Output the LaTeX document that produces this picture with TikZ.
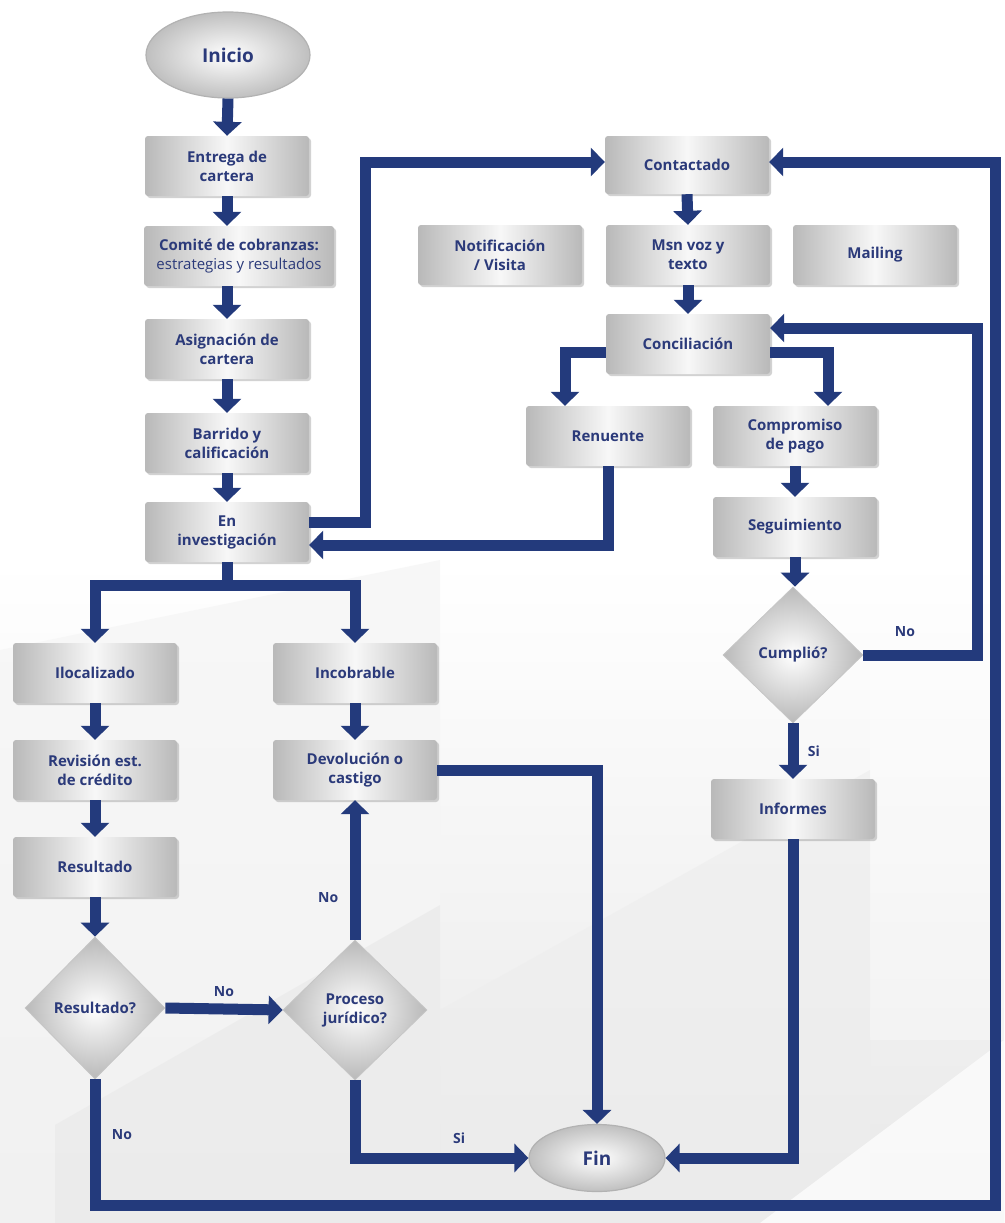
\documentclass[tikz,border=0pt]{standalone}
\usepackage{fontspec}
\setmainfont{Open Sans}
\usetikzlibrary{arrows.meta,shapes.geometric,shadows}
\definecolor{navy}{HTML}{233A7C}
\definecolor{txt}{HTML}{2B3A7A}
\begin{document}
\begin{tikzpicture}[x=1pt,y=-1pt,
  box/.style={rectangle, rounded corners=3pt, minimum width=164pt, minimum height=60pt,
    inner sep=2pt, align=center, text=txt, font=\fontsize{15}{19}\selectfont\bfseries,
    left color=gray!55, right color=gray!55, middle color=gray!6,
    drop shadow={shadow xshift=2pt, shadow yshift=-2pt, opacity=0.35}},
  dec/.style={diamond, inner sep=0pt, align=center, text=txt,
    font=\fontsize{15}{19}\selectfont\bfseries, shading=radial, inner color=white, outer color=gray!55,
    draw=gray!45, line width=0.8pt},
  term/.style={ellipse, inner sep=0pt, text=txt, font=\fontsize{19}{22}\selectfont\bfseries,
    shading=radial, inner color=white, outer color=gray!50, draw=gray!60, line width=1.2pt},
  conn/.style={draw=navy, line width=11pt, line join=miter,
    -{Triangle[width=28pt,length=14pt]}},
  seg/.style={draw=navy, line width=11pt, line join=miter},
  lbl/.style={text=txt, font=\fontsize{14}{16}\selectfont\bfseries}
]
\useasboundingbox (0,0) rectangle (1004,1223);
% background
\fill[white] (0,0) rectangle (1004,1223);
\shade[top color=white, bottom color=gray!18] (0,560) rectangle (1004,1223);
\fill[gray!8, opacity=0.7] (0,650) -- (440,560) -- (440,1223) -- (0,1223) -- cycle;
\fill[gray!18, opacity=0.6] (55,1125) -- (440,905) -- (440,1223) -- (55,1223) -- cycle;
\fill[gray!14, opacity=0.6] (440,1010) -- (870,770) -- (870,1223) -- (440,1223) -- cycle;
\fill[white, opacity=0.7] (760,1223) -- (1004,1040) -- (1004,1223) -- cycle;
\fill[white, opacity=0.3] (870,560) rectangle (1004,1040);

% left column
\node[term, minimum width=164pt, minimum height=86pt] (inicio) at (228,55) {Inicio};
\node[box] (entrega) at (227,166) {Entrega de\\cartera};
\node[box, minimum width=190pt] (comite) at (239,256) {Comité de cobranzas:\\{\mdseries estrategias y resultados}};
\node[box] (asig) at (227,349) {Asignación de\\cartera};
\node[box] (barrido) at (227,443) {Barrido y\\calificación};
\node[box] (eninv) at (227,532) {En\\investigación};

% right column
\node[box, minimum height=58pt] (contactado) at (687,165) {Contactado};
\node[box] (notif) at (500,255) {Notificación\\/ Visita};
\node[box] (msn) at (688,255) {Msn voz y\\texto};
\node[box] (mailing) at (875,255) {Mailing};
\node[box] (conc) at (688,344) {Conciliación};
\node[box] (renuente) at (608,436) {Renuente};
\node[box] (compromiso) at (795,436) {Compromiso\\de pago};
\node[box] (seguimiento) at (795,527) {Seguimiento};
\node[dec, minimum width=140pt, minimum height=136pt] (cumplio) at (793,655) {Cumplió?};
\node[box] (informes) at (793,809) {Informes};

% lower left
\node[box] (iloc) at (95,673) {Ilocalizado};
\node[box] (incobrable) at (355,673) {Incobrable};
\node[box] (revision) at (95,770) {Revisión est.\\de crédito};
\node[box] (devolucion) at (355,770) {Devolución o\\castigo};
\node[box] (resultado) at (95,867) {Resultado};
\node[dec, minimum width=140pt, minimum height=142pt] (resq) at (95,1008) {Resultado?};
\node[dec, minimum width=144pt, minimum height=140pt] (proceso) at (355,1010) {Proceso\\jurídico?};
\node[term, minimum width=136pt, minimum height=67pt] (fin) at (597,1158) {Fin};

% connectors: left column
\draw[conn] (inicio.south) -- (entrega.north);
\draw[conn] (entrega.south) -- (entrega.south |- comite.north);
\draw[conn] (asig.north |- comite.south) -- (asig.north);
\draw[conn] (asig.south) -- (barrido.north);
\draw[conn] (barrido.south) -- (eninv.north);

% split from En investigacion
\coordinate (sp) at (227,585);
\draw[seg] (eninv.south) -- (sp);
\draw[conn] (sp) -| (iloc.north);
\draw[conn] (sp) -| (incobrable.north);
\draw[conn] (iloc.south) -- (revision.north);
\draw[conn] (revision.south) -- (resultado.north);
\draw[conn] (incobrable.south) -- (devolucion.north);
\draw[conn] (resultado.south) -- (resq.north);
\draw[conn] (resq.east) -- (proceso.west) node[lbl, midway, above=4pt] {No};
\draw[conn] (proceso.north) -- (proceso.north |- devolucion.south) node[lbl, pos=0.3, left=8pt] {No};
\draw[conn] (proceso.south) |- (fin.west) node[lbl, pos=0.8, above=6pt] {Si};
\draw[conn] (devolucion.east) -| (fin.north);
\draw[conn] (informes.south) |- (fin.east);

% En investigacion <-> Contactado / Renuente
\draw[conn] ([yshift=10pt]eninv.east) -- ++(56,0) |- ([yshift=3pt]contactado.west);
\draw[conn] (renuente.south) |- ([yshift=-13pt]eninv.east);

% right column flow
\draw[conn] (contactado.south) -- (msn.north);
\draw[conn] (msn.south) -- (conc.north);
\draw[conn] ([yshift=-8pt]conc.west) -| ([xshift=-43pt]renuente.north);
\draw[conn] ([yshift=-8pt]conc.east) -| ([xshift=33pt]compromiso.north);
\draw[conn] (compromiso.south) -- (seguimiento.north);
\draw[conn] (seguimiento.south) -- (seguimiento.south |- cumplio.north);
\draw[conn] (cumplio.east) -- ++(114,0) |- ([yshift=16pt]conc.east);
\node[lbl] (lno1) at (905,632) {No};
\draw[conn] (cumplio.south -| informes.north) -- (informes.north) node[lbl, midway, right=6pt] {Si};

% big return loop
\coordinate (bl) at (95,1205);
\coordinate (br) at (995,1205);
\draw[conn] (resq.south) -- (bl) -- (br) |- ([yshift=3pt]contactado.east);
\node[lbl] (lno2) at (122,1135) {No};
\end{tikzpicture}
\end{document}
